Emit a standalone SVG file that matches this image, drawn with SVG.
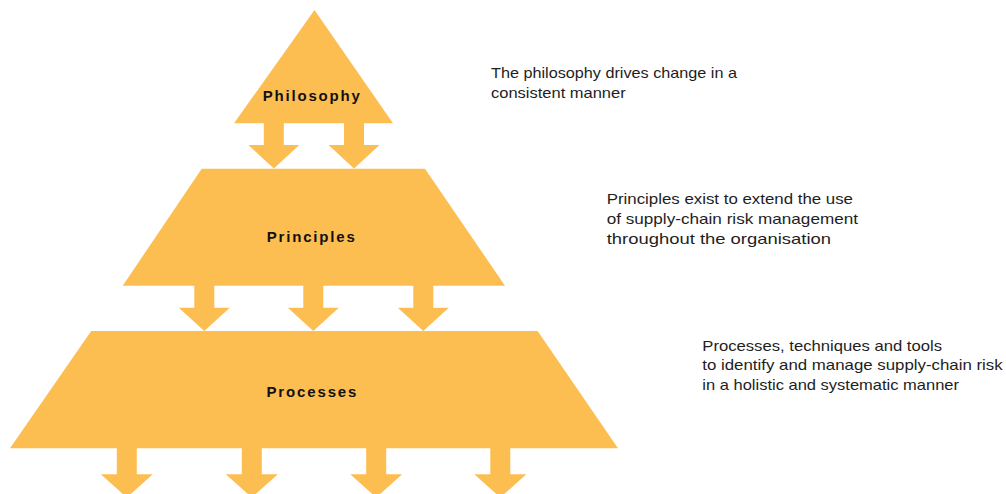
<svg xmlns="http://www.w3.org/2000/svg" width="1006" height="494" viewBox="0 0 1006 494">
  <defs>
    <style>
      .tier { fill: #FDBE51; }
      .flow { fill: #FDBE51; }
      .label { font-family: "Liberation Sans", Arial, sans-serif; font-weight: bold; font-size: 15px; fill: #111111; text-anchor: middle; }
      .note { font-family: "Liberation Sans", Arial, sans-serif; font-size: 14.5px; fill: #1e1e1e; }
    </style>
  </defs>
  <rect width="1006" height="494" fill="#ffffff"/>

  <!-- Top tier -->
  <g id="philosophy">
    <polygon class="tier" points="314.5,10 234,123.3 393,123.3"/>
    <text class="label" x="311.3" y="100.5" textLength="97" lengthAdjust="spacing">Philosophy</text>
  </g>

  <!-- Middle tier -->
  <g id="principles">
    <polygon class="tier" points="201.7,168.8 425,168.8 505,285.7 122.7,285.7"/>
    <text class="label" x="310.8" y="241.7" textLength="88" lengthAdjust="spacing">Principles</text>
  </g>

  <!-- Bottom tier -->
  <g id="processes">
    <polygon class="tier" points="91.2,331 537.6,331 618,448.3 10,448.3"/>
    <text class="label" x="311.4" y="396.7" textLength="90" lengthAdjust="spacing">Processes</text>
  </g>

  <!-- Block arrows between tiers -->
  <g id="connectors">
    <!-- philosophy to principles -->
    <polygon class="flow" points="263.8,122 283.8,122 283.8,145 299.3,145 273.8,168.5 248.3,145 263.8,145"/>
    <polygon class="flow" points="344,122 364,122 364,145 379.5,145 354,168.5 328.5,145 344,145"/>
    <!-- principles to processes -->
    <polygon class="flow" points="194.3,285 214.3,285 214.3,307.7 229.8,307.7 204.3,331 178.8,307.7 194.3,307.7"/>
    <polygon class="flow" points="303.3,285 323.3,285 323.3,307.7 338.8,307.7 313.3,331 287.8,307.7 303.3,307.7"/>
    <polygon class="flow" points="413.3,285 433.3,285 433.3,307.7 448.8,307.7 423.3,331 397.8,307.7 413.3,307.7"/>
    <!-- processes onward -->
    <polygon class="flow" points="116.8,447.5 136.8,447.5 136.8,474.3 152.8,474.3 126.8,497.5 100.8,474.3 116.8,474.3"/>
    <polygon class="flow" points="241.8,447.5 261.8,447.5 261.8,474.3 277.8,474.3 251.8,497.5 225.8,474.3 241.8,474.3"/>
    <polygon class="flow" points="366.2,447.5 386.2,447.5 386.2,474.3 402.2,474.3 376.2,497.5 350.2,474.3 366.2,474.3"/>
    <polygon class="flow" points="490.3,447.5 510.3,447.5 510.3,474.3 526.3,474.3 500.3,497.5 474.3,474.3 490.3,474.3"/>
  </g>

  <!-- Descriptions -->
  <g id="philosophy-note">
    <text class="note" x="491" y="78.3" textLength="246" lengthAdjust="spacingAndGlyphs">The philosophy drives change in a</text>
    <text class="note" x="491" y="98.3" textLength="134.7" lengthAdjust="spacingAndGlyphs">consistent manner</text>
  </g>
  <g id="principles-note">
    <text class="note" x="606.7" y="204" textLength="246.3" lengthAdjust="spacingAndGlyphs">Principles exist to extend the use</text>
    <text class="note" x="606.7" y="224.3" textLength="251.3" lengthAdjust="spacingAndGlyphs">of supply-chain risk management</text>
    <text class="note" x="606.7" y="244" textLength="224.3" lengthAdjust="spacingAndGlyphs">throughout the organisation</text>
  </g>
  <g id="processes-note">
    <text class="note" x="702.3" y="351" textLength="239.7" lengthAdjust="spacingAndGlyphs">Processes, techniques and tools</text>
    <text class="note" x="702.3" y="370.3" textLength="300.4" lengthAdjust="spacingAndGlyphs">to identify and manage supply-chain risk</text>
    <text class="note" x="702.3" y="390.3" textLength="256.7" lengthAdjust="spacingAndGlyphs">in a holistic and systematic manner</text>
  </g>
</svg>
